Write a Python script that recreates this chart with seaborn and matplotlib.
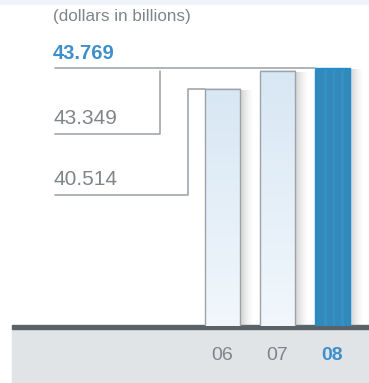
import numpy as np
import pandas as pd
import matplotlib
matplotlib.use("Agg")
import matplotlib.pyplot as plt
import seaborn as sns
from matplotlib.patches import Rectangle

# ---- data ----
years = ["06", "07", "08"]
values = [40.514, 43.349, 43.769]
value_labels = ["40.514", "43.349", "43.769"]
unit_label = "(dollars in billions)"

# ---- style ----
sns.set_style("white")
plt.rcParams["font.family"] = ["Liberation Sans", "DejaVu Sans"]

W, H = 369, 383
GRAY_TXT = "#808589"
BLUE_TXT = "#3f8fca"
BAR_BLUE = "#1b8fd1"
EDGE = "#9ea3a8"
LEAD = "#a2a7ab"

fig = plt.figure(figsize=(W / 100, H / 100), dpi=100)
fig.patch.set_facecolor("white")

# background pieces (figure coords)
fig.patches.append(Rectangle((12 / W, 0), (W - 12) / W, (H - 328) / H,
                             transform=fig.transFigure, color="#e1e4e7", zorder=-2))
fig.patches.append(Rectangle((12 / W, (H - 329) / H), (W - 12) / W, 4 / H,
                             transform=fig.transFigure, color="#5b6168", zorder=-1))
fig.patches.append(Rectangle((0, (H - 4) / H), 1, 4 / H,
                             transform=fig.transFigure, color="#eef4fa", zorder=-2))

base_px = 326
scale = 6.35          # px per unit
ymin = 3.19
ymax = ymin + base_px / scale
x0_px, step_px = 222.5, 55.0

ax = fig.add_axes([0, (H - base_px) / H, 1, base_px / H])
ax.patch.set_alpha(0)

df = pd.DataFrame({"year": years, "value": values})
sns.barplot(data=df, x="year", y="value", hue="year", order=years, hue_order=years,
            palette=["#e3eef8", "#e3eef8", BAR_BLUE], width=0.64, legend=False,
            ax=ax, edgecolor=EDGE, linewidth=1.0, zorder=3)

grad = matplotlib.colors.LinearSegmentedColormap
cm_light = grad.from_list("lb", ["#f1f7fc", "#d8e7f4"])
for i, p in enumerate(ax.patches[:3]):
    x = p.get_x()
    w = p.get_width()
    v = values[i]
    # shadow on right side
    sh = np.zeros((1, 40, 4))
    sh[..., :3] = 0.55
    sh[0, :, 3] = np.linspace(0.55, 0.0, 40) ** 1.5
    ax.imshow(sh, extent=[x + w, x + w + 0.24, ymin, v - 0.25], aspect="auto",
              interpolation="bilinear", zorder=2)
    if i < 2:
        g = np.linspace(0, 1, 100).reshape(-1, 1)
        ax.imshow(g, extent=[x, x + w, ymin, v], aspect="auto", cmap=cm_light,
                  origin="lower", interpolation="bilinear", zorder=2.5)
        p.set_facecolor("none")
    else:
        p.set_edgecolor(BAR_BLUE)
        for off in (0.25, 0.5, 0.75):
            ax.add_patch(Rectangle((x + w * off, ymin), w * 0.08, v - ymin - 0.3,
                                   color="#3aa0dc", alpha=0.35, lw=0, zorder=3.5))

# leader lines
def px2x(px):
    return (px - x0_px) / step_px

def py2y(py):
    return ymin + (base_px - py) / scale

left = px2x(55)
bl = [p.get_x() for p in ax.patches[:3]]
ax.plot([left, bl[2]], [values[2], values[2]], color=LEAD, lw=1.2, zorder=4)
y07 = py2y(134)
ax.plot([left, px2x(160), px2x(160)], [y07, y07, values[1]], color=LEAD, lw=1.2, zorder=4)
y06 = py2y(195)
ax.plot([left, px2x(188), px2x(188), bl[0]], [y06, y06, values[0], values[0]],
        color=LEAD, lw=1.2, zorder=4)

ax.text(px2x(53), values[2] + 0.8, value_labels[2], color=BLUE_TXT, fontsize=14.5,
        fontweight="bold", ha="left", va="bottom")
ax.text(px2x(53), y07 + 0.9, value_labels[1], color=GRAY_TXT, fontsize=15,
        ha="left", va="bottom")
ax.text(px2x(53), y06 + 0.9, value_labels[0], color=GRAY_TXT, fontsize=15,
        ha="left", va="bottom")
ax.text(px2x(53), py2y(17), unit_label, color=GRAY_TXT, fontsize=12.3,
        ha="left", va="center")

ax.set_xlim(px2x(0), px2x(W))
ax.set_ylim(ymin, ymax)
ax.set_xlabel("")
ax.set_ylabel("")
ax.set_yticks([])
for s in ax.spines.values():
    s.set_visible(False)
ax.set_xticks(range(3))
ax.set_xticklabels(years)
ax.tick_params(axis="x", length=0, pad=15, labelsize=14, labelcolor=GRAY_TXT)
lbls = ax.get_xticklabels()
lbls[2].set_color(BLUE_TXT)
lbls[2].set_fontweight("bold")

fig.savefig("out.png", dpi=100)
